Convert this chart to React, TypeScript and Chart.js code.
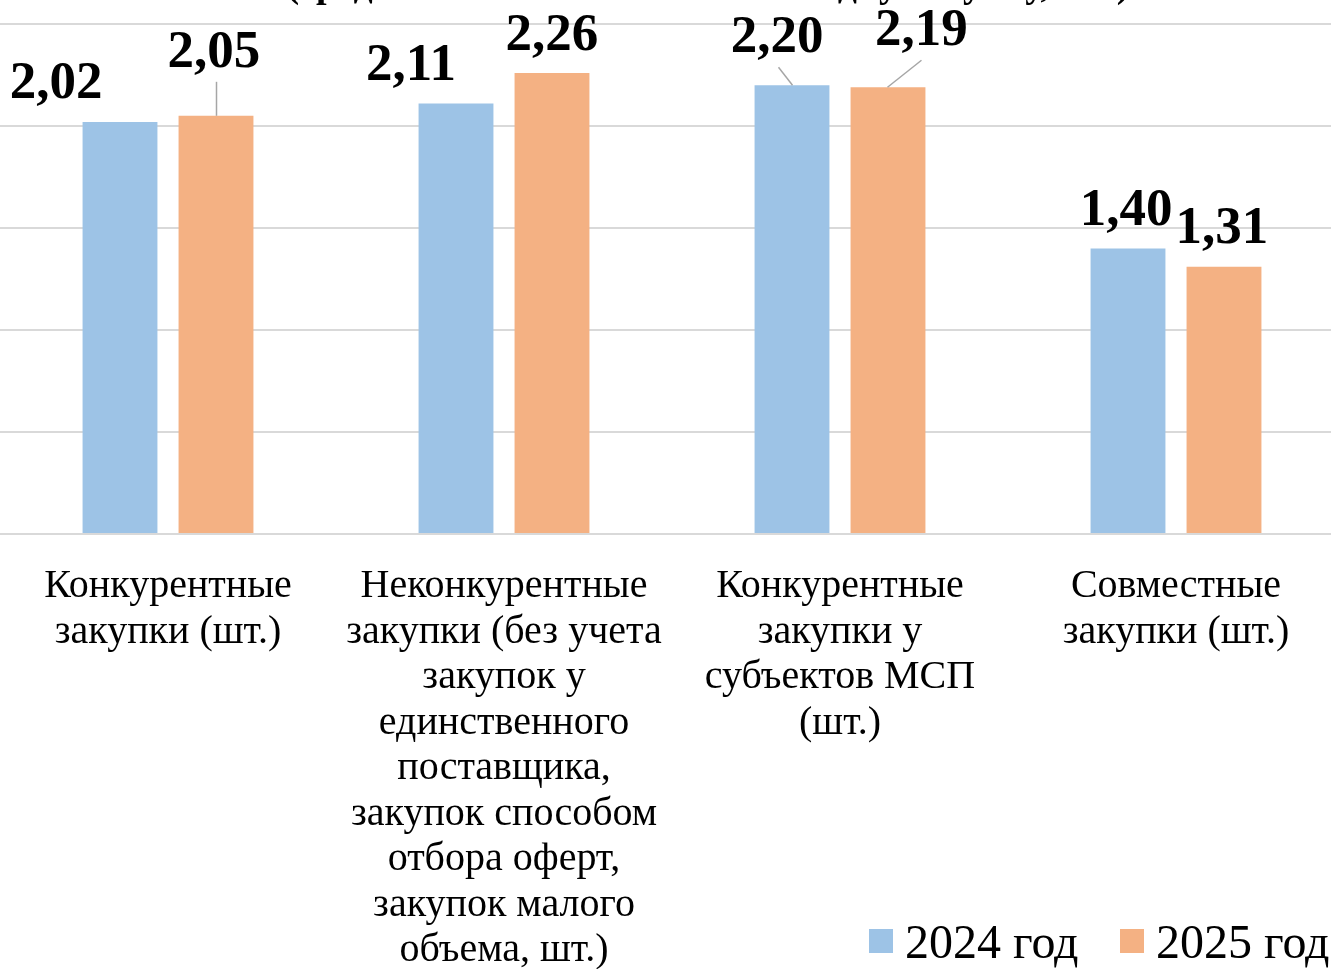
import React, { useEffect, useRef } from "react";
import { Chart, registerables } from "chart.js";

Chart.register(...registerables);

const categories: string[][] = [
  ["Конкурентные", "закупки (шт.)"],
  [
    "Неконкурентные",
    "закупки (без учета",
    "закупок у",
    "единственного",
    "поставщика,",
    "закупок способом",
    "отбора оферт,",
    "закупок малого",
    "объема, шт.)",
  ],
  ["Конкурентные", "закупки у", "субъектов МСП", "(шт.)"],
  ["Совместные", "закупки (шт.)"],
];

const seriesNames = ["2024 год", "2025 год"];
const values2024 = [2.02, 2.11, 2.2, 1.4];
const values2025 = [2.05, 2.26, 2.19, 1.31];
const seriesColors = ["#9DC3E6", "#F4B183"];

const titleText = "(среднее количество заявок на одну закупку, шт.)";

// label placement relative to bar top centre: [dx, dy]
const labelOffsets2024: number[][] = [[-64, -24], [-45, -24], [-15, -33], [-2, -23]];
const labelOffsets2025: number[][] = [[-2, -49], [0, -23], [33.5, -42], [-2, -24]];
const leader2024 = [false, false, true, false];
const leader2025 = [true, false, true, false];

const fmt = (v: number) => v.toFixed(2).replace(".", ",");

export default function App() {
  const ref = useRef<HTMLCanvasElement | null>(null);

  useEffect(() => {
    const canvas = ref.current;
    if (!canvas) return;

    const overlay = {
      id: "overlay",
      afterDatasetsDraw(chart: any) {
        const ctx = chart.ctx as CanvasRenderingContext2D;
        const offsets = [labelOffsets2024, labelOffsets2025];
        const leaders = [leader2024, leader2025];
        ctx.save();
        for (let d = 0; d < chart.data.datasets.length; d++) {
          const meta = chart.getDatasetMeta(d);
          meta.data.forEach((bar: any, i: number) => {
            const v = chart.data.datasets[d].data[i] as number;
            const [dx, dy] = offsets[d][i];
            const lx = bar.x + dx;
            const ly = bar.y + dy;
            if (leaders[d][i]) {
              ctx.strokeStyle = "#A6A6A6";
              ctx.lineWidth = 1.5;
              ctx.beginPath();
              const sx = Math.abs(dx) < 5 ? bar.x + 0.5 : lx + (dx > 0 ? 0 : 1.5);
              ctx.moveTo(sx, ly + 15);
              ctx.lineTo(bar.x + (dx > 0 ? -0.5 : 0.5), bar.y);
              ctx.stroke();
            }
            ctx.fillStyle = "#000";
            ctx.font = "bold 53px 'Liberation Serif', 'Times New Roman', serif";
            ctx.textAlign = "center";
            ctx.textBaseline = "alphabetic";
            ctx.fillText(fmt(v), lx, ly);
          });
        }
        ctx.restore();
      },
      afterDraw(chart: any) {
        const ctx = chart.ctx as CanvasRenderingContext2D;
        const xScale = chart.scales.x;
        ctx.save();
        // title (mostly above the visible area)
        ctx.fillStyle = "#000";
        ctx.font = "bold 38px 'Liberation Serif', 'Times New Roman', serif";
        ctx.textAlign = "center";
        ctx.textBaseline = "alphabetic";
        ctx.fillText(titleText, 708, -3);

        // category labels
        ctx.font = "40px 'Liberation Serif', 'Times New Roman', serif";
        categories.forEach((lines, i) => {
          const cx = xScale.getPixelForValue(i);
          lines.forEach((line, k) => {
            ctx.fillText(line, cx, 597 + k * 45.5);
          });
        });

        // legend
        const legendItems = [
          { x: 869, text: seriesNames[0], color: seriesColors[0] },
          { x: 1120, text: seriesNames[1], color: seriesColors[1] },
        ];
        ctx.font = "48px 'Liberation Serif', 'Times New Roman', serif";
        ctx.textAlign = "left";
        legendItems.forEach((it) => {
          ctx.fillStyle = it.color;
          ctx.fillRect(it.x, 929, 24, 24);
          ctx.fillStyle = "#000";
          ctx.fillText(it.text, it.x + 36, 958);
        });
        ctx.restore();
      },
    };

    const chart = new Chart(canvas, {
      type: "bar",
      data: {
        labels: categories.map((c) => c.join(" ")),
        datasets: [
          {
            label: seriesNames[0],
            data: values2024,
            backgroundColor: seriesColors[0],
            categoryPercentage: 0.5714,
            barPercentage: 0.78,
          },
          {
            label: seriesNames[1],
            data: values2025,
            backgroundColor: seriesColors[1],
            categoryPercentage: 0.5714,
            barPercentage: 0.78,
          },
        ],
      },
      options: {
        responsive: false,
        animation: false,
        devicePixelRatio: 1,
        layout: { padding: { top: 24, bottom: 435, left: 0, right: 0 } },
        plugins: {
          legend: { display: false },
          title: { display: false },
          tooltip: { enabled: false },
        },
        scales: {
          x: { display: false },
          y: {
            min: 0,
            max: 2.5,
            ticks: { display: false, stepSize: 0.5 },
            border: { display: false },
            grid: { color: "#D9D9D9", lineWidth: 2, drawTicks: false },
            afterFit: (scale: any) => {
              scale.width = 0;
            },
          },
        },
      },
      plugins: [overlay],
    });

    return () => chart.destroy();
  }, []);

  return (
    <div
      style={{
        position: "fixed",
        left: 0,
        top: 0,
        width: 1331,
        height: 969,
        overflow: "hidden",
        background: "#fff",
      }}
    >
      <canvas ref={ref} width={1344} height={969} style={{ display: "block" }} />
    </div>
  );
}
